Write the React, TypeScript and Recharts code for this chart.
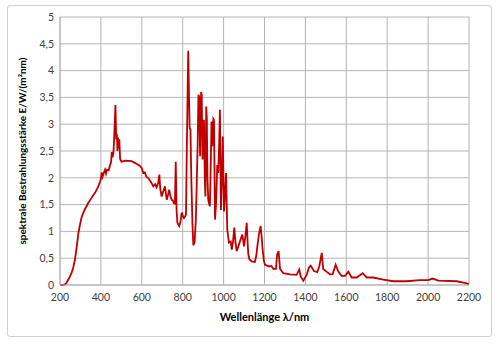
import React from "react";
import { LineChart, Line, XAxis, YAxis, CartesianGrid } from "recharts";

const wavelengths = [
  200, 215, 228, 245, 257, 265, 273, 282, 290, 298, 306, 320, 338, 355, 371, 385, 396, 400, 404, 408,
  415, 420, 425, 430, 438, 445, 450, 453, 457, 461, 465, 471, 475, 478, 481, 484, 487, 490, 494, 500,
  520, 550, 570, 591, 600, 607, 615, 622, 630, 640, 648, 656, 665, 672, 680, 686, 690, 697, 705, 713,
  718, 722, 728, 734, 740, 746, 752, 756, 762, 766, 770, 774, 783, 790, 795, 800, 806, 812, 816, 820,
  824, 827, 831, 834, 838, 842, 848, 852, 858, 864, 868, 873, 877, 881, 885, 890, 893, 897, 900, 904,
  908, 911, 915, 918, 921, 925, 930, 933, 937, 941, 945, 950, 953, 958, 963, 969, 974, 978, 982, 987,
  992, 996, 1002, 1007, 1012, 1018, 1026, 1035, 1040, 1046, 1052, 1058, 1064, 1072, 1083, 1091, 1095, 1100, 1106, 1113,
  1118, 1121, 1126, 1137, 1153, 1160, 1165, 1173, 1181, 1186, 1190, 1197, 1202, 1219, 1235, 1243, 1256, 1262, 1269, 1276,
  1292, 1325, 1357, 1370, 1377, 1390, 1406, 1418, 1426, 1442, 1458, 1468, 1480, 1487, 1503, 1520, 1533, 1548, 1561, 1577,
  1594, 1610, 1626, 1651, 1680, 1700, 1732, 1781, 1830, 1895, 1960, 2001, 2022, 2050, 2140, 2189, 2200,
];

const irradiance = [
  0, 0, 0.02, 0.13, 0.23, 0.33, 0.47, 0.72, 0.97, 1.13, 1.27, 1.4, 1.53, 1.63, 1.72, 1.82, 1.93, 1.98, 2.1, 2.02,
  2.1, 2.15, 2.08, 2.15, 2.14, 2.24, 2.3, 2.48, 2.38, 2.45, 2.75, 3.36, 2.72, 2.82, 2.5, 2.75, 2.55, 2.72, 2.35, 2.3,
  2.32, 2.31, 2.27, 2.22, 2.18, 2.09, 2.1, 2.02, 2.0, 1.95, 1.9, 1.84, 1.88, 1.82, 1.9, 2.06, 1.8, 1.65, 1.75, 1.84,
  1.7, 1.59, 1.68, 1.78, 1.65, 1.59, 1.58, 1.53, 1.52, 2.3, 1.4, 1.16, 1.1, 1.2, 1.35, 1.3, 1.25, 1.28, 1.31, 2.5,
  3.6, 4.37, 3.5, 2.93, 2.9, 2.0, 1.1, 0.74, 0.8, 1.2, 1.78, 2.6, 3.55, 3.5, 2.4, 3.6, 3.55, 2.34, 3.0, 3.08,
  2.0, 1.65, 3.33, 3.1, 2.0, 1.59, 1.5, 1.47, 2.2, 3.05, 2.59, 3.1, 3.08, 1.22, 1.5, 2.24, 2.09, 2.6, 3.27, 1.4,
  2.0, 2.77, 1.37, 1.7, 2.09, 1.03, 0.79, 0.81, 0.66, 0.8, 1.07, 0.8, 0.63, 0.72, 0.85, 0.94, 0.85, 0.72, 0.9, 1.16,
  0.75, 0.57, 0.48, 0.44, 0.43, 0.55, 0.72, 0.95, 1.1, 0.9, 0.7, 0.45, 0.38, 0.35, 0.35, 0.3, 0.3, 0.57, 0.63, 0.3,
  0.22, 0.2, 0.19, 0.29, 0.16, 0.08, 0.19, 0.33, 0.36, 0.26, 0.24, 0.35, 0.6, 0.3, 0.25, 0.2, 0.2, 0.38, 0.25, 0.17,
  0.17, 0.25, 0.14, 0.14, 0.22, 0.14, 0.14, 0.1, 0.07, 0.07, 0.09, 0.09, 0.12, 0.08, 0.07, 0.03, 0.01,
];

const xTicks = [200, 400, 600, 800, 1000, 1200, 1400, 1600, 1800, 2000, 2200];
const yTicks = [0, 0.5, 1, 1.5, 2, 2.5, 3, 3.5, 4, 4.5, 5];

const xLabel = "Wellenlänge λ/nm";
const yLabel = "spektrale Bestrahlungsstärke E/W/(m²nm)";

const data = wavelengths.map((w, i) => ({ w, e: irradiance[i] }));

const FONT = "Lato, 'Open Sans', sans-serif";
const GRID = "#b4b4b4";

export default function App() {
  return (
    <div style={{ position: "absolute", left: 0, top: 0, width: 500, height: 344, background: "#fff" }}>
      <div
        style={{
          position: "absolute",
          left: 7,
          top: 5,
          width: 485,
          height: 332,
          border: "1px solid #d0d0d0",
          borderRadius: 3,
          boxSizing: "border-box",
        }}
      />
      <div style={{ position: "absolute", left: 0, top: 0 }}>
        <LineChart
          width={500}
          height={344}
          data={data}
          margin={{ top: 17, right: 31, bottom: 19, left: 0 }}
        >
          <CartesianGrid stroke={GRID} strokeWidth={1} />
          <XAxis
            dataKey="w"
            type="number"
            domain={[200, 2200]}
            ticks={xTicks}
            interval={0}
            allowDataOverflow
            height={40}
            tickLine={false}
            tickSize={0}
            tickMargin={9}
            axisLine={{ stroke: GRID }}
            tick={{ fill: "#404040", fontSize: 10.5, fontFamily: FONT }}
            label={{
              value: xLabel,
              position: "insideBottom",
              offset: 4,
              style: { fill: "#000", fontSize: 11, fontWeight: 700, fontFamily: FONT },
            }}
          />
          <YAxis
            type="number"
            domain={[0, 5]}
            ticks={yTicks}
            interval={0}
            width={60}
            tickLine={false}
            tickSize={0}
            tickMargin={6}
            axisLine={{ stroke: GRID }}
            tickFormatter={(v: number) => String(v).replace(".", ",")}
            tick={{ fill: "#404040", fontSize: 10.5, fontFamily: FONT }}
            label={{
              value: yLabel,
              angle: -90,
              position: "insideLeft",
              offset: 0,
              dx: 22,
              style: { textAnchor: "middle", fill: "#000", fontSize: 10, fontWeight: 700, fontFamily: FONT },
            }}
          />
          <Line
            type="linear"
            dataKey="e"
            stroke="#c00000"
            strokeWidth={1.8}
            dot={false}
            isAnimationActive={false}
          />
        </LineChart>
      </div>
    </div>
  );
}
